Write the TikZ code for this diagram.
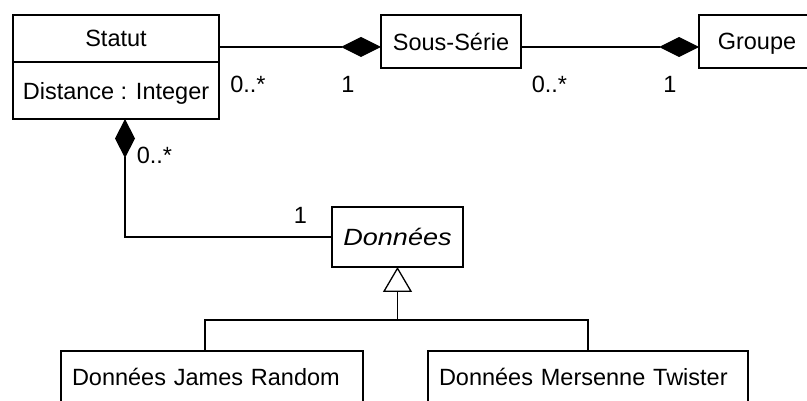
\documentclass[tikz,border=0pt]{standalone}
\usepackage{fontspec}
\setmainfont{Liberation Sans}
\usepackage{graphicx}
\usetikzlibrary{arrows.meta, positioning}
\newcommand{\umlfont}{\fontsize{23.5}{28}\selectfont}

\begin{document}
\begin{tikzpicture}[
    x=1pt, y=-1pt,
    line width=1.3pt,
    every node/.style={font=\umlfont},
    cls/.style={rectangle, draw, outer sep=0pt, inner sep=0pt, text depth=0pt, minimum height=53pt},
    leftcls/.style={cls, align=left, inner xsep=11pt},
    mult/.style={inner sep=0pt},
    comp/.style={-{Diamond[length=40pt, width=20pt]}},
    owner/.style={{Diamond[length=39pt, width=20pt]}-},
    inherit/.style={{Triangle[open, length=25pt, width=29pt, fill=white]}-}
  ]

  \path[use as bounding box, clip] (0,0) rectangle (807,401);

  \node[cls, minimum width=206pt, minimum height=47pt] (statut) at (116,38.5) {Statut};
  \node[cls, minimum width=206pt, minimum height=57pt, below=0pt of statut] (statutattr) {Distance : Integer};
  \node[cls, minimum width=140pt, right=162pt of statut, yshift=-3pt] (sousserie) {Sous-Série};
  \node[cls, minimum width=116pt, right=178pt of sousserie] (groupe) {Groupe};

  \node[cls, minimum width=131pt, minimum height=60pt] (donnees) at (397.5,237) {\scalebox{1.15}[1]{\itshape Données}};
  \node[leftcls, text width=280pt, minimum height=52pt] (jr) at (212,377) {Données James Random};
  \node[leftcls, text width=298pt, minimum height=52pt] (mt) at (588,377) {Données Mersenne Twister};

  \draw[comp] ([yshift=-8.5pt]statut.east) -- ([yshift=-5.5pt]sousserie.west);
  \draw[comp] ([yshift=-5.5pt]sousserie.east) -- ([yshift=-5.5pt]groupe.west);
  \draw[owner] ([xshift=9pt]statutattr.south) |- (donnees.west);

  \coordinate[below=53pt of donnees.south] (fork);
  \draw[inherit] (donnees.south) -- (fork);
  \draw (fork) -| ([xshift=-7pt]jr.north);
  \draw (fork) -| (mt.north);

  \node[mult] (statutmult) at (248,84.5) {0..*};
  \node[mult] (sousseriemult) at (348,84.5) {1};
  \node[mult] (seriemult) at (549.5,84.5) {0..*};
  \node[mult] (groupemult) at (670,84.5) {1};
  \node[mult] (datamult) at (154.5,155) {0..*};
  \node[mult] (ownermult) at (300.5,215) {1};

\end{tikzpicture}
\end{document}
